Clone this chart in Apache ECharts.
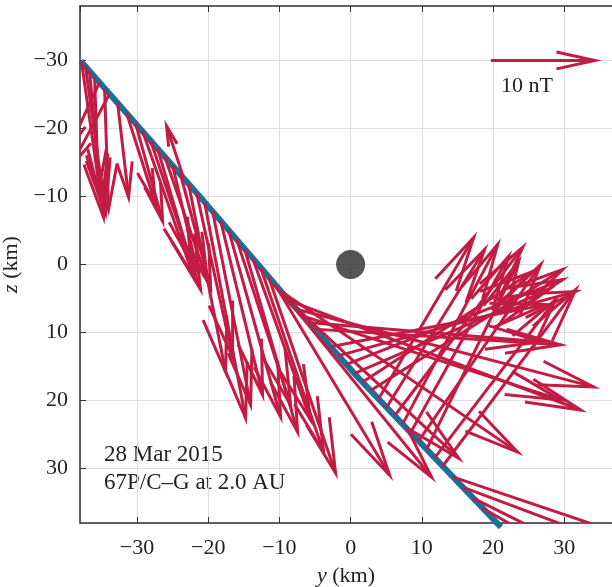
<!DOCTYPE html>
<html>
<head>
<meta charset="utf-8">
<script src="https://cdn.jsdelivr.net/npm/echarts@6/dist/echarts.min.js"></script>
<style>
  html, body { margin: 0; padding: 0; background: #fff; }
  #chart { width: 612px; height: 587px; }
</style>
</head>
<body>
<div id="chart"></div>
<script>
// spacecraft track (km)
const trackY = [-37.9, -21.1, -8.4, 1.4, 21.1]
const trackZ = [-29.9, -9.9, 5.6, 17.0, 38.6]

// arrow origins along the track (km)
const originY = [-37.78, -37.22, -36.66, -35.96, -35.25, -34.55, -33.85, -32.72, -31.46, -30.20,
  -29.21, -28.09, -27.11, -26.12, -25.00, -23.88, -23.46, -22.75, -21.63, -20.51,
  -19.38, -18.26, -17.13, -16.01, -14.89, -13.76, -12.64, -11.52, -10.67, -9.83,
  -9.27, -8.71, -8.15, -7.58, -6.74, -5.90, -5.06, -2.81, -1.69, -0.56,
  0.56, 1.69, 2.81, 3.93, 5.06, 6.18, 7.30, 8.43, 9.55, 10.67,
  11.80, 12.92, 14.33, 15.73, 17.13, 18.54]
const originZ = [-29.78, -29.10, -28.44, -27.60, -26.77, -25.93, -25.09, -23.76, -22.26, -20.75,
  -19.59, -18.24, -17.08, -15.90, -14.57, -13.23, -12.73, -11.86, -10.55, -9.19,
  -7.82, -6.45, -5.06, -3.69, -2.32, -0.93, 0.44, 1.81, 2.86, 3.89,
  4.57, 5.27, 5.93, 6.58, 7.55, 8.53, 9.50, 12.09, 13.39, 14.69,
  15.99, 17.27, 18.51, 19.75, 20.99, 22.23, 23.47, 24.71, 25.94, 27.18,
  28.42, 29.66, 31.21, 32.74, 34.31, 35.84]

// field vectors, drawn in km (10 nT = 14.6 km)
const vecY = [3.09, 2.81, 1.69, 0.57, -4.36, 0.56, -5.48, 1.54, 4.07, 3.80,
  7.16, 7.02, 4.64, 6.04, 3.51, 4.22, -2.38, 5.19, 5.06, 5.76,
  5.34, 5.90, 7.30, 7.58, 7.45, 8.14, 8.85, 9.41, 16.15, 33.29,
  20.65, 41.01, 23.32, 41.71, 36.23, 32.59, 34.55, 30.20, 33.29, 30.34,
  27.25, 23.87, 26.97, 13.35, 13.76, 17.98, 13.35, 13.76, 17.14, 12.93,
  16.99, 18.68, 37.64, 41.85, 40.45, 30.62]
const vecZ = [22.85, 21.58, 19.44, 16.83, 9.81, 17.82, 10.78, 13.88, 13.41, 14.41,
  21.36, 21.93, 16.64, 18.41, 15.60, 16.62, -7.62, 27.64, 24.12, 31.76,
  28.47, 25.62, 27.48, 24.34, 26.95, 23.79, 27.14, 28.87, 28.11, 23.69,
  26.70, 16.12, 22.54, 11.41, 12.36, 2.83, 2.30, -6.19, -9.41, -12.48,
  -12.30, -16.24, -17.77, -23.73, -23.20, -24.74, -26.42, -25.89, -25.94, -27.62,
  -23.26, -25.97, 13.33, 16.37, 21.15, 18.29]

const nucleus = [[0, 0]]
const scaleOrigin = [19.7, -30]
const scaleKm = 14.6
const scaleText = '10 nT'

const RED = '#c21c43'
const BLUE = '#1b6f98'
const FONT = 'Liberation Serif'

function arrow(api, y0, z0, dy, dz) {
  const p0 = api.coord([y0, z0])
  const p1 = api.coord([y0 + dy, z0 + dz])
  const vx = p1[0] - p0[0]
  const vy = p1[1] - p0[1]
  const len = Math.sqrt(vx * vx + vy * vy)
  const ux = vx / len
  const uy = vy / len
  const head = Math.min(len * 0.37, 55)
  const half = head * 0.22
  const bx = p1[0] - ux * head
  const by = p1[1] - uy * head
  const style = { stroke: RED, lineWidth: 3, fill: null, lineJoin: 'miter' }
  return [
    { type: 'line', shape: { x1: p0[0], y1: p0[1], x2: p1[0], y2: p1[1] }, style },
    { type: 'polyline', shape: { points: [[bx - uy * half, by + ux * half], p1, [bx + uy * half, by - ux * half]] }, style }
  ]
}

const arrowData = originY.map((y, i) => [y, originZ[i], vecY[i], vecZ[i]])

const chart = echarts.init(document.getElementById('chart'))

const tickLabel = v => (v < 0 ? '\u2212' + (-v) : String(v))

chart.setOption({
  animation: false,
  grid: { left: 80, top: 6, right: 0, bottom: 64, containLabel: false, outerBoundsMode: 'none' },
  xAxis: [{
    type: 'value', min: -38, max: 36.7, splitNumber: 7,
    name: '{i|y} (km)', nameLocation: 'middle', nameGap: 42,
    nameTextStyle: { fontFamily: FONT, fontSize: 22, color: '#222',
      rich: { i: { fontFamily: FONT, fontSize: 22, fontStyle: 'italic', color: '#222' } } },
    axisLine: { onZero: false, lineStyle: { color: '#333', width: 1.5 } },
    axisTick: { inside: true, length: 6, lineStyle: { color: '#333' } },
    axisLabel: { fontFamily: FONT, fontSize: 22, color: '#222', margin: 14,
      showMinLabel: false, showMaxLabel: false, formatter: tickLabel },
    splitLine: { show: true, lineStyle: { color: '#dedede', width: 1 } }
  }, {
    type: 'value', position: 'top', min: -38, max: 36.7, splitNumber: 7,
    axisLine: { show: true, onZero: false, lineStyle: { color: '#333', width: 1.5 } },
    axisTick: { inside: true, length: 6, lineStyle: { color: '#333' } },
    axisLabel: { show: false },
    splitLine: { show: false }
  }],
  yAxis: {
    type: 'value', inverse: true, min: -38, max: 38, splitNumber: 7,
    name: '{i|z} (km)', nameLocation: 'middle', nameGap: 52,
    nameTextStyle: { fontFamily: FONT, fontSize: 22, color: '#222',
      rich: { i: { fontFamily: FONT, fontSize: 22, fontStyle: 'italic', color: '#222' } } },
    axisLine: { show: true, onZero: false, lineStyle: { color: '#333', width: 1.5 } },
    axisTick: { show: true, inside: true, length: 6, lineStyle: { color: '#333' } },
    axisLabel: { fontFamily: FONT, fontSize: 22, color: '#222', margin: 12,
      showMinLabel: false, showMaxLabel: false, formatter: tickLabel },
    splitLine: { show: true, lineStyle: { color: '#dedede', width: 1 } }
  },
  graphic: [
    { type: 'text', x: 104, y: 455, style: { text: '28 Mar 2015', font: '23px "Liberation Serif"', fill: '#222', verticalAlign: 'middle', textVerticalAlign: 'middle' } },
    { type: 'text', x: 104, y: 483, style: { text: '67P/C\u2013G at 2.0 AU', font: '23px "Liberation Serif"', fill: '#222', verticalAlign: 'middle', textVerticalAlign: 'middle' } }
  ],
  series: [
    {
      type: 'line', data: trackY.map((y, i) => [y, trackZ[i]]),
      showSymbol: false, clip: false, z: 2,
      lineStyle: { color: BLUE, width: 6 }
    },
    {
      type: 'custom', data: arrowData, clip: true, z: 3,
      encode: { x: 0, y: 1 },
      renderItem: (params, api) => ({
        type: 'group',
        children: arrow(api, api.value(0), api.value(1), api.value(2), api.value(3))
      })
    },
    {
      type: 'custom', data: [[scaleOrigin[0], scaleOrigin[1], scaleKm, 0]], z: 3,
      encode: { x: 0, y: 1 },
      renderItem: (params, api) => {
        const p0 = api.coord([api.value(0), api.value(1)])
        const kids = arrow(api, api.value(0), api.value(1), api.value(2), api.value(3))
        kids.push({ type: 'text', x: p0[0] + 10, y: p0[1] + 26,
          style: { text: scaleText, font: '22px "Liberation Serif"', fill: '#222', verticalAlign: 'middle', textVerticalAlign: 'middle' } })
        return { type: 'group', children: kids }
      }
    },
    {
      type: 'scatter', data: nucleus, symbolSize: 29, z: 4,
      itemStyle: { color: '#2b2b2b' }
    }
  ]
})
</script>
</body>
</html>
